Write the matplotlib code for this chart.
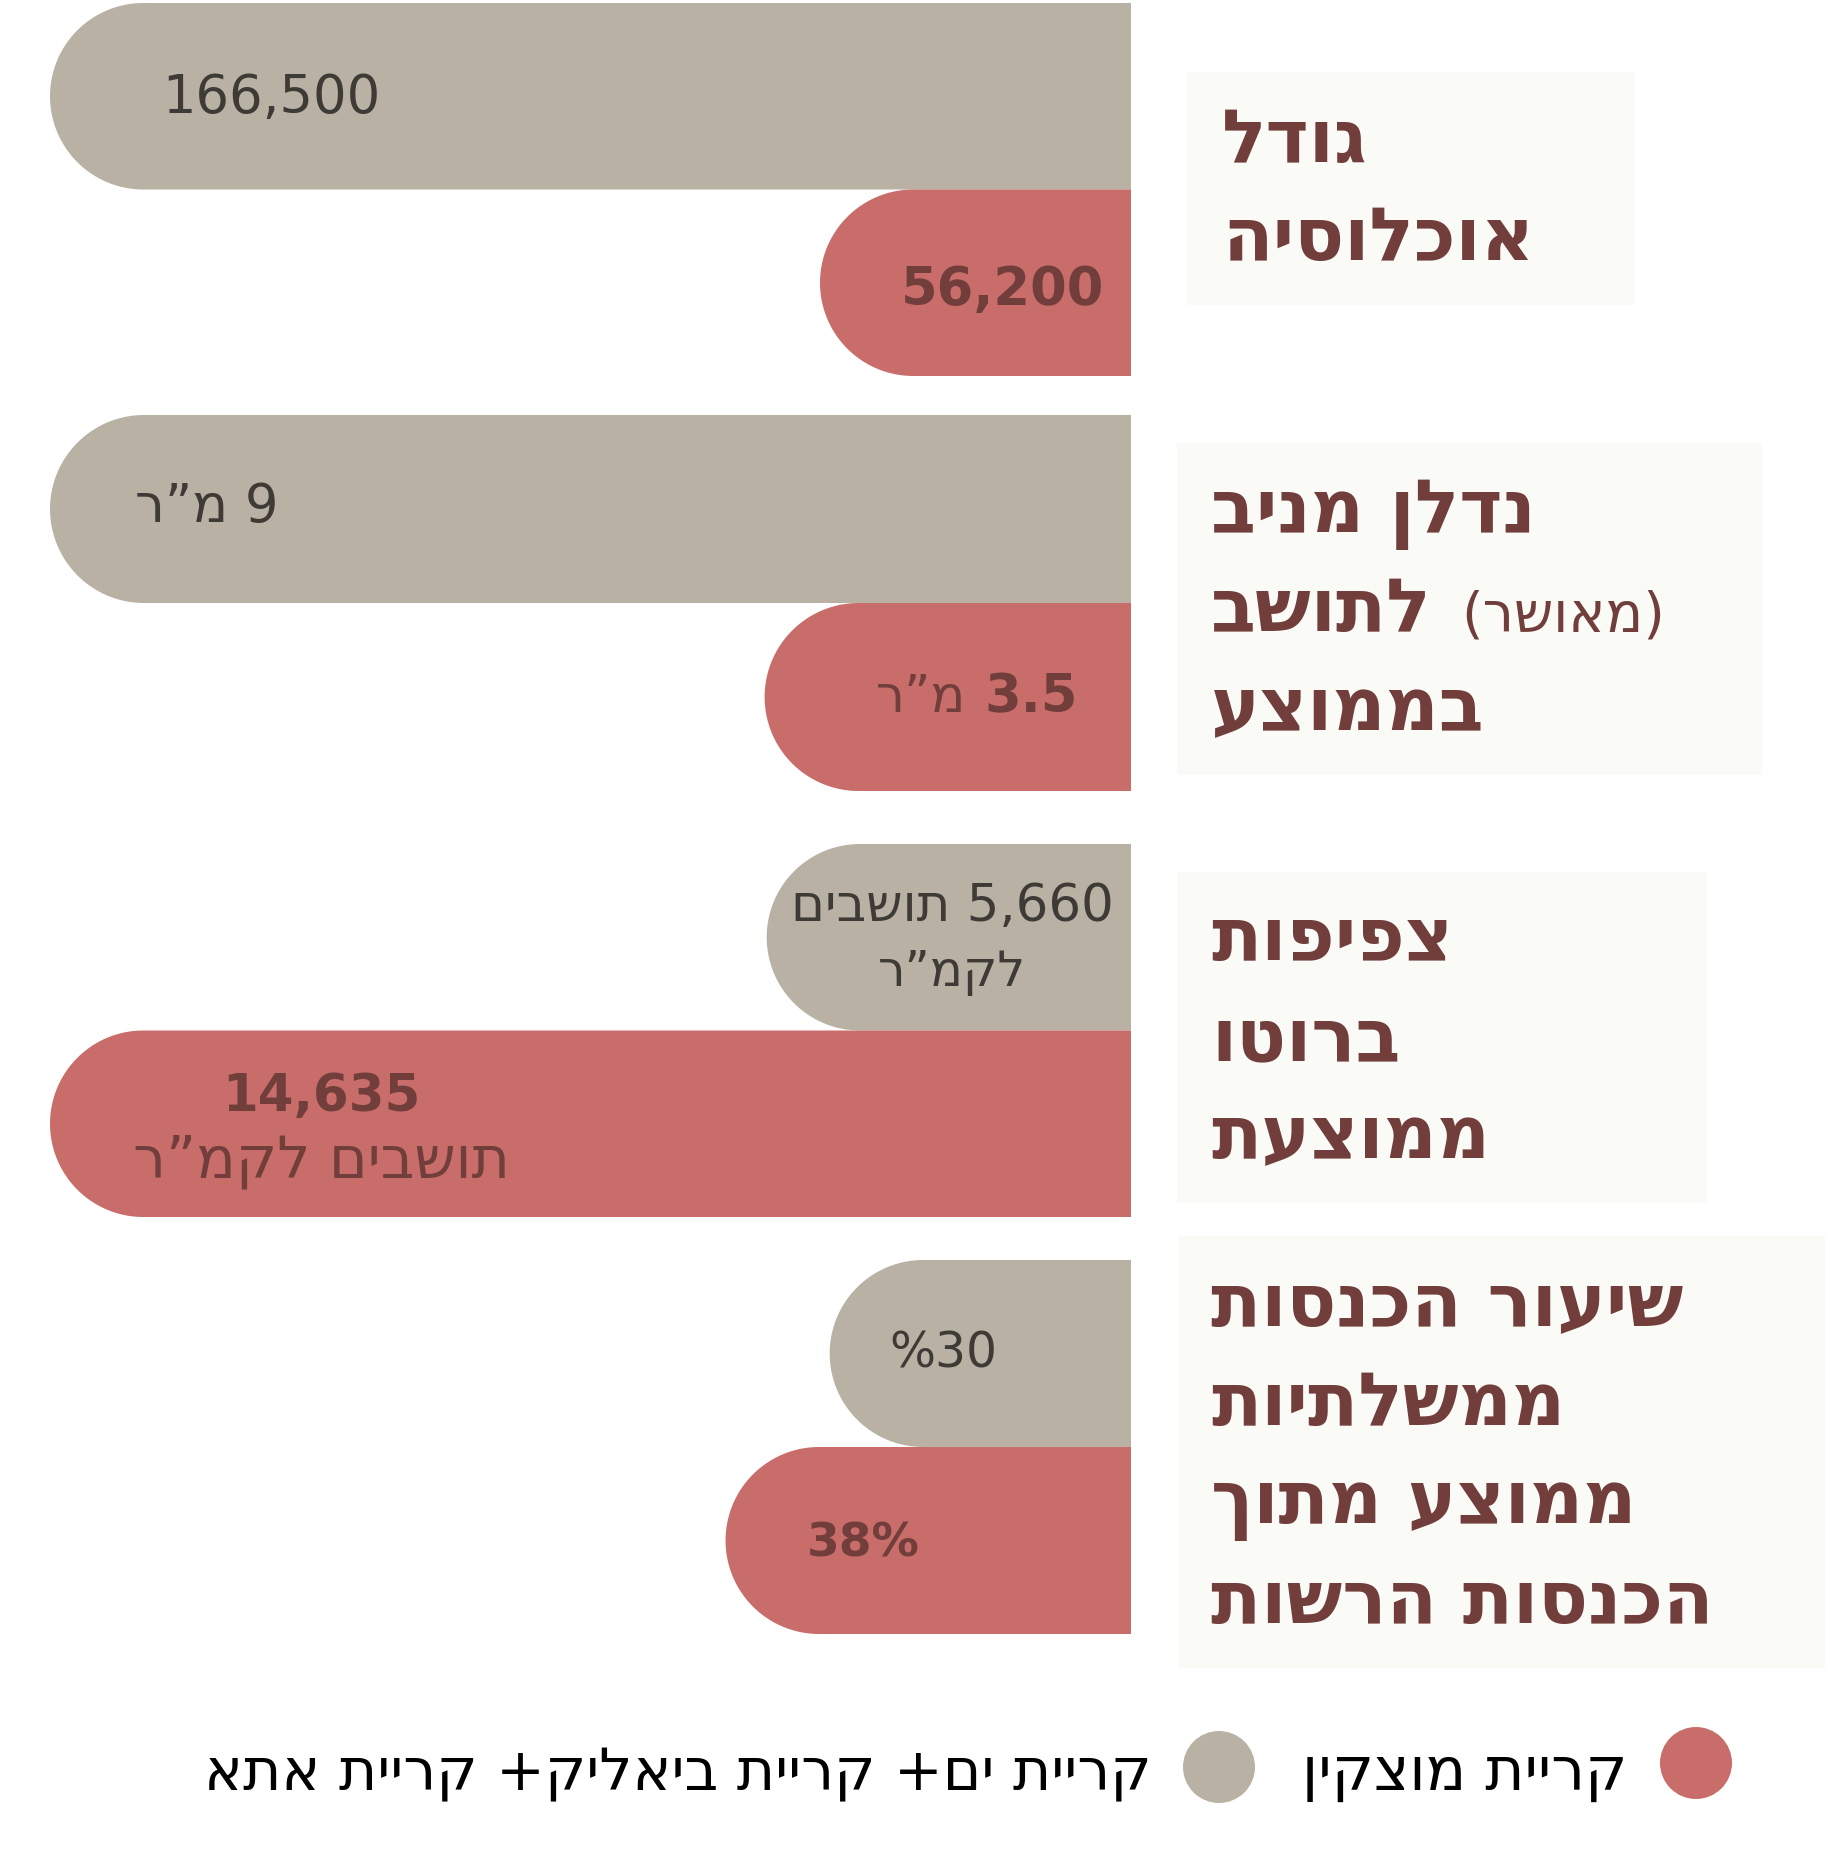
import re
import numpy as np
import matplotlib
matplotlib.use("Agg")
import matplotlib.pyplot as plt
from matplotlib.patches import Polygon, Rectangle, Circle

plt.rcParams['font.family'] = ['DejaVu Sans']

# ---------------- data ----------------
category_lines = [
    ["גודל", "אוכלוסיה"],
    ["נדלן מניב", "לתושב", "בממוצע"],
    ["צפיפות", "ברוטו", "ממוצעת"],
    ["שיעור הכנסות", "ממשלתיות", "ממוצע מתוך", "הכנסות הרשות"],
]
category_note = "(מאושר)"          # follows line 2 of the 2nd category

series_names = ["קריית ים+ קריית ביאליק+ קריית אתא", "קריית מוצקין"]
krayot_values = [166500, 9, 5660, 30]        # grey series
motzkin_values = [56200, 3.5, 14635, 38]     # red series

krayot_numbers = ["166,500", "9", "5,660", "30%"]
krayot_units = ["", "מ”ר", "תושבים|לקמ”ר", ""]
motzkin_numbers = ["56,200", "3.5", "14,635", "38%"]
motzkin_units = ["", "מ”ר", "תושבים לקמ”ר", ""]

# ---------------- style / layout ----------------
W, H = 1833, 1851
GREY = '#bab1a5'
RED = '#c96d6b'
MAROON = '#713e3c'
DARK = '#3e3b36'
BOXBG = '#fafaf7'

BAR_X0, BAR_X1 = 50, 1131
group_rows = [(3, 376), (415, 791), (844, 1217), (1260, 1634)]
# visible value range of each group's axis (left, right)
x_limits = [(166500, 11650), (9.0, 0.68), (14635, 1098), (89.9, 6.85)]

boxes = [(1187, 72, 1634, 305), (1177, 443, 1762, 775),
         (1177, 872, 1707, 1203), (1178, 1236, 1825, 1668)]
title_x = [1222, 1211, 1211, 1211]
title_baselines = [[162, 260], [532, 631, 730], [960, 1060, 1158],
                   [1325, 1425, 1523, 1623]]
TITLE_FS = 53


def vis(s):
    """logical RTL string -> visual left-to-right order"""
    tokens = re.findall(r'[0-9][0-9.,]*|.', s)
    mirror = {'(': ')', ')': '('}
    return ''.join(mirror.get(t, t) for t in reversed(tokens))


fig = plt.figure(figsize=(W / 100, H / 100), dpi=100)
fig.patch.set_facecolor('white')


def rounded_bar(ax, value, ypos, height, color, right_edge):
    bb = ax.get_window_extent()
    xl = ax.get_xlim()
    yl = ax.get_ylim()
    sx = bb.width / abs(xl[0] - xl[1])
    sy = bb.height / abs(yl[0] - yl[1])
    rx = (height * sy / 2) / sx
    c = value - rx
    t = np.linspace(-np.pi / 2, np.pi / 2, 120)
    xs = np.concatenate([[right_edge], c + rx * np.cos(t), [right_edge]])
    ys = np.concatenate([[ypos - height / 2], ypos + height / 2 * np.sin(t),
                         [ypos + height / 2]])
    ax.add_patch(Polygon(np.column_stack([xs, ys]), closed=True,
                         facecolor=color, edgecolor='none'))


for g in range(4):
    y0, y1 = group_rows[g]
    ax = fig.add_axes([BAR_X0 / W, 1 - y1 / H, (BAR_X1 - BAR_X0) / W, (y1 - y0) / H])
    ax.set_xlim(*x_limits[g])
    ax.set_ylim(1.5, -0.5)
    ax.axis('off')
    rounded_bar(ax, krayot_values[g], 0, 1.0, GREY, x_limits[g][1])
    rounded_bar(ax, motzkin_values[g], 1, 1.0, RED, x_limits[g][1])

# overlay in pixel coordinates for annotations
ov = fig.add_axes([0, 0, 1, 1], zorder=5)
ov.set_xlim(0, W)
ov.set_ylim(H, 0)
ov.axis('off')
ov.patch.set_alpha(0)
renderer = fig.canvas.get_renderer()

# category boxes + titles
for g in range(4):
    x0, yb0, x1, yb1 = boxes[g]
    ov.add_patch(Rectangle((x0, yb0), x1 - x0, yb1 - yb0, facecolor=BOXBG,
                           edgecolor='none', zorder=1))
    for i, line in enumerate(category_lines[g]):
        t = ov.text(title_x[g], title_baselines[g][i], vis(line), fontsize=TITLE_FS,
                    fontweight='bold', color=MAROON, ha='left', va='baseline', zorder=3)
        if g == 1 and i == 1:
            bb = t.get_window_extent(renderer)
            ov.text(bb.x1 + 30, title_baselines[g][i], vis(category_note), fontsize=40,
                    color=MAROON, ha='left', va='baseline', zorder=3)

# value labels ------------------------------------------------------
kw_d = dict(color=DARK, va='baseline', zorder=3)
kw_m = dict(color=MAROON, va='baseline', zorder=3)

# group 1
ov.text(162, 113, krayot_numbers[0], fontsize=38, ha='left', **kw_d)
ov.text(1104, 305, motzkin_numbers[0], fontsize=38, fontweight='bold', ha='right', **kw_m)

# group 2
ov.text(135, 522, vis(krayot_numbers[1] + " " + krayot_units[1]), fontsize=38,
        ha='left', **kw_d)
t = ov.text(1078, 712, motzkin_numbers[1], fontsize=38, fontweight='bold', ha='right', **kw_m)
bb = t.get_window_extent(renderer)
ov.text(bb.x0 - 18, 712, vis(motzkin_units[1]), fontsize=37, ha='right', **kw_m)

# group 3
u1, u2 = krayot_units[2].split('|')
ov.text(952, 921, vis(krayot_numbers[2] + " " + u1), fontsize=37, ha='center', **kw_d)
ov.text(952, 986, vis(u2), fontsize=35, ha='center', **kw_d)
ov.text(321, 1111, motzkin_numbers[2], fontsize=37, fontweight='bold', ha='center', **kw_m)
ov.text(321, 1177, vis(motzkin_units[2]), fontsize=42, ha='center', **kw_m)

# group 4
ov.text(943, 1367, vis(krayot_numbers[3]), fontsize=35, ha='center', **kw_d)
ov.text(807, 1556, motzkin_numbers[3], fontsize=34, fontweight='bold', ha='left', **kw_m)

# legend ----------------------------------------------------------------
ov.add_patch(Circle((1696, 1763), 36, facecolor=RED, edgecolor='none'))
ov.add_patch(Circle((1219, 1767), 36, facecolor=GREY, edgecolor='none'))
ov.text(1627, 1790, vis(series_names[1]), fontsize=43, color='black',
        ha='right', va='baseline')
ov.text(1152, 1790, vis(series_names[0]), fontsize=42, color='black',
        ha='right', va='baseline')

fig.savefig('out.png', dpi=100, facecolor='white')
